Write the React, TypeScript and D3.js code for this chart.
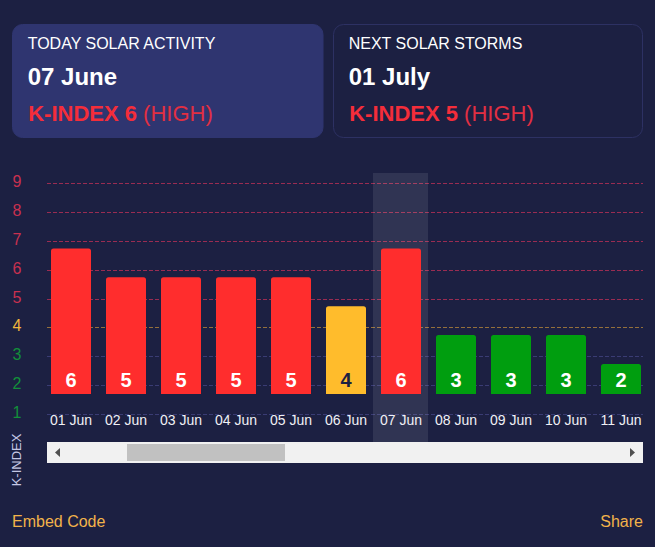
import React, { useEffect, useRef } from 'react';
import * as d3 from 'd3';

const days = ['01 Jun', '02 Jun', '03 Jun', '04 Jun', '05 Jun', '06 Jun', '07 Jun', '08 Jun', '09 Jun', '10 Jun', '11 Jun'];
const kIndex = [6, 5, 5, 5, 5, 4, 6, 3, 3, 3, 2];
const yTicks = [1, 2, 3, 4, 5, 6, 7, 8, 9];
const today = '07 Jun';

const WIDTH = 655;
const HEIGHT = 547;
const FONT = '"Liberation Sans", Arial, sans-serif';

const RED = '#ff2d2d';
const YELLOW = '#ffbc2c';
const GREEN = '#009e0f';

function levelColor(k: number) {
  if (k >= 5) return RED;
  if (k === 4) return YELLOW;
  return GREEN;
}

function tickColor(k: number) {
  if (k >= 5) return '#c9304f';
  if (k === 4) return '#f2b63c';
  return '#12903a';
}

function gridColor(k: number) {
  if (k >= 5) return '#9a2c52';
  if (k === 4) return '#94703c';
  return '#3a3c74';
}

export default function App() {
  const svgRef = useRef<SVGSVGElement>(null);

  useEffect(() => {
    if (!svgRef.current) return;
    const svg = d3.select(svgRef.current);
    svg.selectAll('*').remove();

    svg.append('rect').attr('width', WIDTH).attr('height', HEIGHT).attr('fill', '#1c2042');

    // Header cards
    const cards = [
      { x: 12.5, w: 310.5, title: 'TODAY SOLAR ACTIVITY', date: '07 June', k: 6, fill: '#2f3570', stroke: '#2f3570' },
      { x: 333.5, w: 309, title: 'NEXT SOLAR STORMS', date: '01 July', k: 5, fill: 'none', stroke: '#2d3163' },
    ];
    const card = svg.selectAll('g.card').data(cards).enter().append('g').attr('class', 'card');
    card
      .append('rect')
      .attr('x', (d) => d.x)
      .attr('y', 24.5)
      .attr('width', (d) => d.w)
      .attr('height', 113)
      .attr('rx', 10)
      .attr('fill', (d) => d.fill)
      .attr('stroke', (d) => d.stroke);
    card
      .append('text')
      .attr('x', (d) => d.x + 15.2)
      .attr('y', 49)
      .attr('fill', '#fff')
      .style('font-size', '16px')
      .text((d) => d.title);
    card
      .append('text')
      .attr('x', (d) => d.x + 15.2)
      .attr('y', 85)
      .attr('fill', '#fff')
      .style('font-size', '24px')
      .style('font-weight', '700')
      .text((d) => d.date);
    const status = card
      .append('text')
      .attr('x', (d) => d.x + 15.7)
      .attr('y', 121)
      .style('font-size', '22px');
    status
      .append('tspan')
      .attr('fill', '#f42d3a')
      .style('font-weight', '700')
      .text((d) => `K-INDEX ${d.k} `);
    status
      .append('tspan')
      .attr('fill', '#e22f42')
      .text('(HIGH)');

    const y = d3.scaleLinear().domain([0, 9]).range([443.375, 183.5]);
    const yBar = d3.scaleLinear().domain([0, 9]).range([421.6, 161.9]);
    const x = d3.scaleBand<string>().domain(days).range([43.5, 648.5]).paddingInner(15 / 55).paddingOuter(7.5 / 55);
    const barBottom = 394;
    const step = x.step();

    // Grid
    svg
      .selectAll('line.grid')
      .data(yTicks)
      .enter()
      .append('line')
      .attr('class', 'grid')
      .attr('x1', 47)
      .attr('x2', 643)
      .attr('y1', (d) => Math.floor(y(d)) + 0.5)
      .attr('y2', (d) => Math.floor(y(d)) + 0.5)
      .attr('stroke', (d) => gridColor(d))
      .attr('stroke-dasharray', '4 2');

    // Y tick labels
    svg
      .selectAll('text.ytick')
      .data(yTicks)
      .enter()
      .append('text')
      .attr('class', 'ytick')
      .attr('x', 17)
      .attr('y', (d) => y(d) + 3.5)
      .attr('text-anchor', 'middle')
      .attr('fill', (d) => tickColor(d))
      .style('font-size', '16px')
      .text((d) => d);

    svg
      .append('text')
      .attr('transform', 'translate(21,460) rotate(-90)')
      .attr('text-anchor', 'middle')
      .attr('fill', '#c5c7e4')
      .style('font-size', '13px')
      .text('K-INDEX');

    // Highlight for today
    svg
      .append('rect')
      .attr('x', Math.floor(x(today)! - (step - x.bandwidth()) / 2))
      .attr('y', 173)
      .attr('width', step)
      .attr('height', 269)
      .attr('fill', '#fff')
      .attr('fill-opacity', 0.09);

    // Bars
    const bars = svg
      .selectAll('g.bar')
      .data(days.map((day, i) => ({ day, k: kIndex[i] })))
      .enter()
      .append('g')
      .attr('class', 'bar');
    bars
      .append('path')
      .attr('fill', (d) => levelColor(d.k))
      .attr('d', (d) => {
        const x0 = x(d.day)!;
        const x1 = x0 + x.bandwidth();
        const top = yBar(d.k);
        const r = 2.5;
        const p = d3.path();
        p.moveTo(x0, barBottom);
        p.lineTo(x0, top + r);
        p.arcTo(x0, top, x0 + r, top, r);
        p.lineTo(x1 - r, top);
        p.arcTo(x1, top, x1, top + r, r);
        p.lineTo(x1, barBottom);
        p.closePath();
        return p.toString();
      });
    bars
      .append('text')
      .attr('x', (d) => x(d.day)! + x.bandwidth() / 2)
      .attr('y', 386.5)
      .attr('text-anchor', 'middle')
      .attr('fill', (d) => (d.k === 4 ? '#1c2042' : '#fff'))
      .style('font-size', '20px')
      .style('font-weight', '700')
      .text((d) => d.k);
    bars
      .append('text')
      .attr('x', (d) => x(d.day)! + x.bandwidth() / 2)
      .attr('y', 424.5)
      .attr('text-anchor', 'middle')
      .attr('fill', '#f0f0f5')
      .style('font-size', '14px')
      .text((d) => d.day);

    // Scrollbar
    svg.append('rect').attr('x', 47).attr('y', 442).attr('width', 596).attr('height', 21).attr('fill', '#f1f1f1');
    svg.append('rect').attr('x', 127).attr('y', 444).attr('width', 158).attr('height', 17).attr('fill', '#c1c1c1');
    svg.append('path').attr('d', 'M55 452.5L60 448V457Z').attr('fill', '#505050');
    svg.append('path').attr('d', 'M635 452.5L630 448V457Z').attr('fill', '#505050');

    // Footer links
    svg
      .append('text')
      .attr('x', 12)
      .attr('y', 527)
      .attr('fill', '#f2b34a')
      .style('font-size', '16px')
      .text('Embed Code');
    svg
      .append('text')
      .attr('x', 643)
      .attr('y', 527)
      .attr('text-anchor', 'end')
      .attr('fill', '#f2b34a')
      .style('font-size', '16px')
      .text('Share');
  }, []);

  return (
    <svg
      ref={svgRef}
      width={WIDTH}
      height={HEIGHT}
      style={{ position: 'fixed', left: 0, top: 0, fontFamily: FONT }}
    ></svg>
  );
}
